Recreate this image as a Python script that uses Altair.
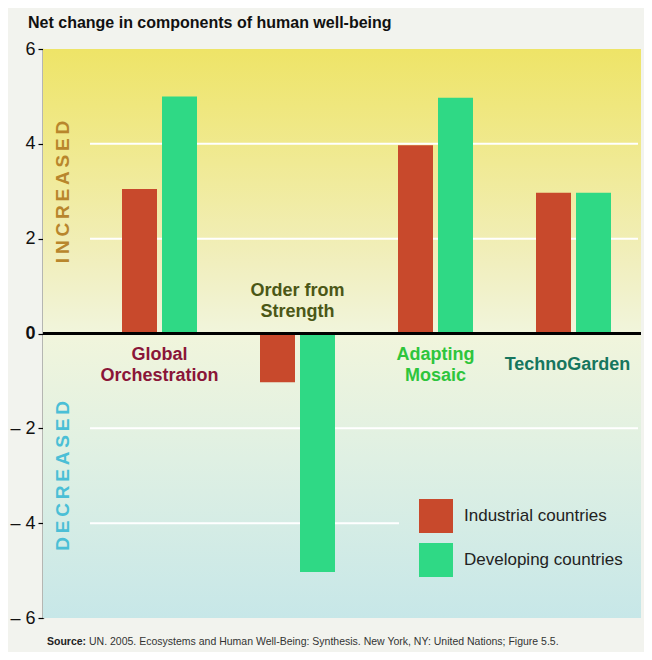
import altair as alt
import pandas as pd

# ---------------- data ----------------
scenarios = ["Global Orchestration", "Order from Strength", "Adapting Mosaic", "TechnoGarden"]
scenario_labels = ["Global\nOrchestration", "Order from\nStrength", "Adapting\nMosaic", "TechnoGarden"]
industrial = [3.05, -1.03, 3.97, 2.97]
developing = [5.0, -5.03, 4.97, 2.97]
groups = ["Industrial countries", "Developing countries"]
y_ticks = [-6, -4, -2, 0, 2, 4, 6]
grid_full = [4, 2, -2]
grid_short = [-4]
title_text = "Net change in components of human well-being"
source_bold = "Source:"
source_rest = "UN. 2005. Ecosystems and Human Well-Being: Synthesis. New York, NY: United Nations; Figure 5.5."
side_up = "INCREASED"
side_down = "DECREASED"

# ---------------- styles ----------------
group_colors = ["#c8492c", "#2fd985"]
label_colors = ["#8a1538", "#4b5716", "#2ec53c", "#16765e"]
label_dy = [21, -42.5, 21, 31.5]
label_dx = [0, 0, 0, -6]
FONT = "Liberation Sans"
W, H = 598, 569

rows = []
for s, a, b in zip(scenarios, industrial, developing):
    rows.append({"scenario": s, "group": groups[0], "value": a})
    rows.append({"scenario": s, "group": groups[1], "value": b})
bars_df = pd.DataFrame(rows)
labels_df = pd.DataFrame({"scenario": scenarios, "label": scenario_labels})
one = pd.DataFrame({"k": [0]})

x_scale = alt.Scale(domain=scenarios, range=[47.5, 599.5], paddingInner=0, paddingOuter=0)
y_scale = alt.Scale(domain=[-6, 6], nice=False, zero=False)
y_axis = alt.Axis(
    values=y_ticks, grid=False, title=None,
    domainColor="black", domainWidth=1.5,
    tickColor="black", tickSize=5, tickWidth=1.2,
    labelFont=FONT, labelFontSize=18, labelColor="#111111", labelPadding=3,
    labelExpr="datum.value < 0 ? '\u2013 ' + abs(datum.value) : datum.label",
    labelFontWeight={"condition": {"test": "datum.value === 0", "value": "bold"}, "value": "normal"},
)

background = alt.Chart(one).mark_rect(
    color=alt.Gradient(
        gradient="linear", x1=0, y1=0, x2=0, y2=1,
        stops=[
            alt.GradientStop(offset=0.0, color="#eee467"),
            alt.GradientStop(offset=0.2, color="#f0ea94"),
            alt.GradientStop(offset=0.38, color="#f1efbf"),
            alt.GradientStop(offset=0.5, color="#f1f5dc"),
            alt.GradientStop(offset=0.72, color="#dff0e3"),
            alt.GradientStop(offset=1.0, color="#c7e7e8"),
        ],
    )
).encode(x=alt.value(0), x2=alt.value(W), y=alt.value(0), y2=alt.value(H))

grid_a = alt.Chart(pd.DataFrame({"v": grid_full})).mark_rule(color="white", strokeWidth=2).encode(
    y=alt.Y("v:Q", scale=y_scale, axis=y_axis), x=alt.value(47), x2=alt.value(595)
)
grid_b = alt.Chart(pd.DataFrame({"v": grid_short})).mark_rule(color="white", strokeWidth=2).encode(
    y=alt.Y("v:Q", scale=y_scale, axis=y_axis), x=alt.value(47), x2=alt.value(356)
)

bars = alt.Chart(bars_df).mark_bar(strokeWidth=0).encode(
    x=alt.X("scenario:N", scale=x_scale, sort=scenarios, axis=None),
    xOffset=alt.XOffset("group:N", sort=groups,
                        scale=alt.Scale(domain=groups, paddingInner=0.125, paddingOuter=0.7875)),
    y=alt.Y("value:Q", scale=y_scale, axis=y_axis),
    color=alt.Color("group:N", scale=alt.Scale(domain=groups, range=group_colors), legend=alt.Legend(
        orient="none", legendX=376, legendY=450, title=None, padding=0,
        symbolType="square", symbolSize=1156, symbolStrokeWidth=0, symbolOpacity=1,
        labelFont=FONT, labelFontSize=17, labelColor="#222222", labelOffset=11,
        rowPadding=10, labelLimit=300,
    )),
)

zero = alt.Chart(one).mark_rule(color="black", strokeWidth=3).encode(
    y=alt.datum(0, scale=y_scale), x=alt.value(0), x2=alt.value(W)
)

label_layers = []
for i, s in enumerate(scenarios):
    label_layers.append(
        alt.Chart(labels_df).transform_filter(alt.datum.scenario == s).mark_text(
            font=FONT, fontSize=18, fontWeight="bold", color=label_colors[i],
            align="center", baseline="middle", lineBreak="\n", lineHeight=21,
            dx=label_dx[i], dy=label_dy[i],
        ).encode(
            x=alt.X("scenario:N", scale=x_scale, sort=scenarios, axis=None),
            y=alt.datum(0, scale=y_scale),
            text="label:N",
        )
    )

def spaced(t):
    return "\u2009".join(list(t))

side_df = pd.DataFrame({"t": [spaced(side_up), spaced(side_down)]})
inc = alt.Chart(side_df.iloc[[0]]).mark_text(
    font=FONT, fontSize=19, fontWeight="bold", color="#b8862c", angle=270,
    align="center", baseline="middle",
).encode(x=alt.value(20), y=alt.value(143), text="t:N")
dec = alt.Chart(side_df.iloc[[1]]).mark_text(
    font=FONT, fontSize=19, fontWeight="bold", color="#4bbfd6", angle=270,
    align="center", baseline="middle",
).encode(x=alt.value(20), y=alt.value(427), text="t:N")

title = alt.Chart(pd.DataFrame({"t": [title_text]})).mark_text(
    font=FONT, fontSize=16, fontWeight="bold", color="#111111", align="left", baseline="alphabetic",
).encode(x=alt.value(-15), y=alt.value(-21), text="t:N")

src1 = alt.Chart(pd.DataFrame({"t": [source_bold]})).mark_text(
    font=FONT, fontSize=10.5, fontWeight="bold",
    color="#222222", align="left", baseline="alphabetic",
).encode(x=alt.value(4), y=alt.value(596), text="t:N")
src2 = alt.Chart(pd.DataFrame({"t": [source_rest]})).mark_text(
    font=FONT, fontSize=10.5,
    color="#333333", align="left", baseline="alphabetic",
).encode(x=alt.value(46), y=alt.value(596), text="t:N")

chart = alt.layer(
    background, grid_a, grid_b, bars, zero, *label_layers, inc, dec, title, src1, src2
).properties(
    width=W, height=H,
    padding={"left": 35, "top": 41, "right": 3, "bottom": 34},
    autosize=alt.AutoSizeParams(type="none"),
    background="#f2f3ee",
).configure_view(stroke=None)

chart.save("out.html", embed_options={"renderer": "svg", "actions": False})
